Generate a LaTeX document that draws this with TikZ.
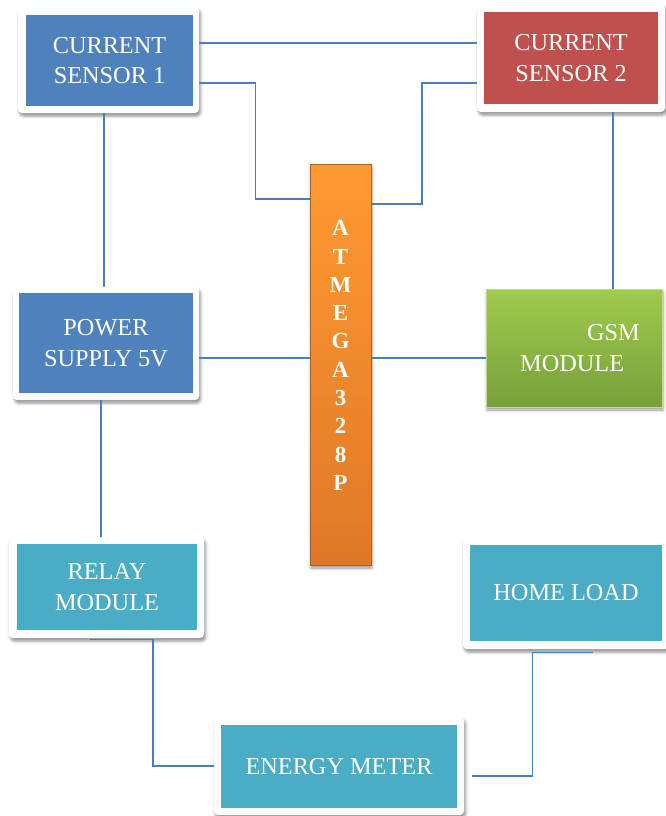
\documentclass[tikz,border=0pt]{standalone}
\usepackage{fontspec}
\setmainfont{Liberation Serif}
\usepackage{tikz}
\usetikzlibrary{calc,positioning}
\usetikzlibrary{shadows.blur}
\definecolor{csblue}{HTML}{4F81BD}
\definecolor{csred}{HTML}{C0504D}
\definecolor{csteal}{HTML}{4BACC6}
\definecolor{wireblue}{HTML}{4A7EBB}
\definecolor{gsmtop}{HTML}{9FCB4E}
\definecolor{gsmbot}{HTML}{77A03A}
\definecolor{atmtop}{HTML}{FF9A33}
\definecolor{atmbot}{HTML}{DF7827}
\tikzset{
    frame/.style={
        fill=white,rounded corners=4pt,inner sep=0pt,
        blur shadow={shadow xshift=1.5pt,shadow yshift=-3pt,shadow blur radius=3pt,shadow opacity=45}
    },
    block/.style={
        inner sep=0pt,text=white,align=center,
        font=\fontsize{24.3}{30.5}\selectfont
    },
    wire/.style={draw=wireblue,line width=1.4pt}
}

\begin{document}
\begin{tikzpicture}[x=1pt,y=-1pt]
\useasboundingbox (0,0) rectangle (665,816);
% white frames
\foreach \name/\cx/\cy/\w/\h in {cs1f/108.5/60/181/106,cs2f/571/58/188/108,psf/106/343.5/186/113,relayf/106.5/587.5/195/101,homef/566/593/206/112,emf/339/766/250/98}
    \node[frame,minimum width=\w pt,minimum height=\h pt] (\name) at (\cx,\cy) {};
\node[block,fill=csblue,minimum width=167pt,minimum height=91pt] (cs1) at (109.5,60.5) {CURRENT\\SENSOR 1};
\node[block,fill=csred,minimum width=174pt,minimum height=92pt] (cs2) at (571,58) {CURRENT\\SENSOR 2};
\node[block,fill=csblue,minimum width=174pt,minimum height=100pt] (ps) at (106,343) {POWER\\SUPPLY 5V};
\node[block,fill=csteal,minimum width=180pt,minimum height=86pt] (relay) at (107,587) {RELAY\\MODULE};
\node[block,fill=csteal,minimum width=192pt,minimum height=96pt] (home) at (566,593) {HOME LOAD};
\node[block,fill=csteal,minimum width=236pt,minimum height=83pt] (em) at (339,766.5) {ENERGY METER};
\node[block,align=left,top color=gsmtop,bottom color=gsmbot,draw=gsmtop!70!white,line width=1pt,
    blur shadow={shadow xshift=1pt,shadow yshift=-3pt,shadow blur radius=3pt},
    minimum width=176pt,minimum height=118pt] (gsm) at (574,348) {\hspace*{79pt}GSM\\\hspace*{12pt}MODULE};
\node[top color=atmtop,bottom color=atmbot,draw=atmbot!80!black,line width=1pt,
    blur shadow={shadow xshift=1pt,shadow yshift=-3pt,shadow blur radius=3pt},
    minimum width=61pt,minimum height=401pt,
    label={[yshift=9pt,text=white,align=center,font=\fontsize{23}{28.3}\selectfont\bfseries]center:A\\T\\M\\E\\G\\A\\3\\2\\8\\P}] (atm) at (340.5,364.5) {};

\draw[wire] ([yshift=17pt]cs1f.east) -- ([yshift=17pt]cs1f.east -| cs2f.west);
\draw[wire] ([yshift=-23pt]cs1f.east) -- ++(56pt,0) |- ([yshift=165.5pt]atm.west);
\draw[wire] ([yshift=-25pt]cs2f.west) -- ++(-55pt,0) |- ([yshift=160.5pt]atm.east);
\draw[wire] ([xshift=-4.5pt]cs1f.south) -- ([xshift=-4.5pt]cs1f.south |- psf.north);
\draw[wire] ([xshift=42pt]cs2f.south) -- ([xshift=42pt]cs2f.south |- gsm.north);
\draw[wire] ([yshift=-14.5pt]psf.east) -- ([yshift=-14.5pt]psf.east -| atm.west);
\draw[wire] ([yshift=6.5pt]atm.east) -- ([yshift=6.5pt]atm.east -| gsm.west);
\draw[wire] ([xshift=-5pt]psf.south) -- ([xshift=-5pt]psf.south |- relayf.north);
\draw[wire] ([xshift=-16.5pt,yshift=-1pt]relayf.south) -- ++(63pt,0) |- (emf.west);
\draw[wire] ([xshift=8pt,yshift=-10pt]emf.east) -- ++(60pt,0) |- ([xshift=27pt,yshift=-3pt]homef.south);
\end{tikzpicture}
\end{document}
